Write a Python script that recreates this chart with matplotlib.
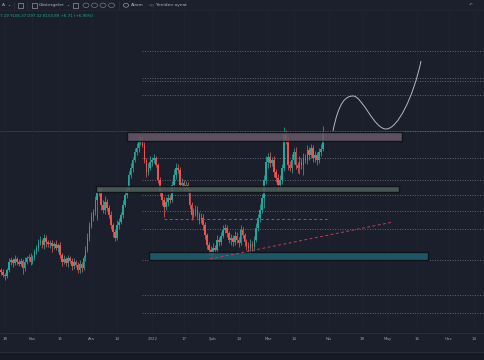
import matplotlib
matplotlib.use("Agg")
import matplotlib.pyplot as plt
import matplotlib.dates as mdates
import numpy as np
import pandas as pd
from matplotlib.path import Path
from matplotlib.patches import PathPatch, Rectangle, Circle

# daily candles, first one on 2021-10-16
first_day = "2021-10-16"
first_open = 48.8
close = [48.0, 46.8, 46.4, 48.8, 52.0,
         52.8, 51.6, 53.2, 52.0, 51.2,
         52.4, 49.6, 52.0, 53.6, 54.0,
         52.0, 54.0, 56.0, 57.6, 59.6,
         60.4, 58.8, 61.6, 60.0, 59.2,
         59.6, 58.4, 59.2, 57.6, 58.8,
         54.8, 52.0, 53.2, 51.6, 53.6,
         52.4, 50.4, 52.0, 50.8, 48.8,
         51.2, 49.6, 53.6, 56.8, 61.6,
         66.4, 70.0, 72.0, 76.8, 80.0,
         80.8, 74.8, 72.8, 76.0, 73.6,
         70.8, 66.8, 64.0, 61.6, 66.8,
         68.0, 70.8, 74.8, 78.8, 80.8,
         86.8, 89.6, 92.8, 96.0, 97.6,
         100.0, 100.8, 98.8, 92.8, 88.0,
         89.6, 92.0, 92.8, 93.6, 90.8,
         84.8, 80.0, 76.8, 74.0, 76.0,
         77.6, 76.8, 82.8, 86.8, 89.6,
         88.8, 82.8, 83.6, 82.0, 82.8,
         80.8, 74.8, 70.8, 72.0, 72.8,
         70.8, 68.8, 69.6, 66.8, 62.8,
         58.8, 56.8, 54.8, 57.6, 56.8,
         60.8, 60.0, 62.4, 64.8, 65.6,
         63.6, 60.8, 61.6, 60.0, 62.4,
         60.8, 59.6, 64.8, 62.8, 60.0,
         58.4, 57.6, 59.2, 58.0, 60.8,
         65.6, 69.6, 72.8, 77.6, 84.8,
         92.0, 94.0, 91.6, 92.8, 88.0,
         85.6, 82.8, 84.8, 89.6, 102.8,
         100.8, 90.8, 89.6, 92.8, 96.0,
         90.8, 89.6, 92.0, 90.8, 93.6,
         92.8, 96.8, 94.8, 97.6, 93.6,
         94.8, 92.8, 96.0, 97.2, 103.9]
wick_up = [0.8, 1.2, 0.8, 0.8, 1.6, 1.2, 0.8, 1.6, 0.8, 1.2,
           1.2, 0.8, 2.0, 0.8, 1.2, 1.6, 0.8, 1.2, 1.2, 1.6,
           2.0, 0.8, 1.6, 1.2, 0.8, 1.2, 1.2, 0.8, 1.6, 0.8,
           1.2, 0.8, 1.6, 0.8, 1.2, 0.8, 1.2, 1.6, 0.8, 1.2,
           1.6, 0.8, 1.2, 1.6, 2.0, 1.6, 2.0, 1.2, 1.6, 2.4,
           1.6, 1.2, 2.0, 2.4, 1.2, 1.2, 1.6, 0.8, 1.2, 2.0,
           1.6, 1.2, 2.0, 1.2, 1.6, 1.6, 2.0, 1.2, 1.6, 2.0,
           2.8, 1.2, 1.6, 1.2, 0.8, 2.0, 2.4, 1.2, 1.6, 0.8,
           0.8, 1.2, 1.6, 1.2, 2.0, 1.6, 1.2, 1.6, 2.4, 2.0,
           1.6, 1.2, 2.0, 1.2, 1.6, 1.2, 0.8, 1.2, 1.6, 2.0,
           1.6, 1.2, 2.0, 1.6, 1.2, 0.8, 1.2, 1.6, 2.0, 1.2,
           2.0, 1.2, 1.6, 2.0, 1.6, 1.2, 0.8, 1.6, 1.2, 2.0,
           1.6, 1.2, 2.0, 1.2, 0.8, 1.2, 1.6, 2.0, 1.2, 1.6,
           2.0, 1.6, 2.4, 1.6, 2.0, 2.4, 1.6, 2.0, 1.2, 1.6,
           1.2, 1.6, 2.0, 1.6, 3.2, 2.0, 1.2, 1.6, 2.4, 1.6,
           2.0, 1.2, 2.4, 1.6, 2.0, 1.6, 2.0, 1.2, 1.6, 1.2,
           1.6, 1.2, 1.6, 2.0, 2.4]
wick_dn = [1.2, 0.8, 1.6, 0.8, 0.8, 1.2, 1.6, 0.8, 1.2, 0.8,
           0.8, 2.4, 1.2, 0.8, 1.2, 1.2, 0.8, 1.2, 0.8, 1.2,
           0.8, 1.2, 1.6, 2.0, 1.2, 1.6, 2.4, 1.2, 0.8, 1.6,
           1.2, 1.6, 0.8, 1.2, 1.6, 0.8, 1.6, 1.2, 0.8, 1.2,
           1.2, 1.6, 0.8, 1.2, 0.8, 1.2, 0.8, 1.6, 1.2, 8.0,
           1.6, 2.0, 1.2, 1.6, 1.2, 1.2, 1.6, 2.0, 1.2, 0.8,
           1.6, 0.8, 1.2, 0.8, 1.2, 0.8, 1.2, 1.6, 0.8, 1.2,
           1.6, 1.2, 0.8, 1.2, 2.0, 1.2, 0.8, 1.6, 1.2, 0.8,
           1.2, 1.6, 2.0, 4.0, 1.2, 1.6, 1.2, 0.8, 1.2, 1.6,
           1.2, 1.6, 1.2, 2.0, 1.6, 1.2, 1.6, 2.0, 1.2, 1.6,
           1.2, 1.6, 1.2, 2.0, 1.6, 1.6, 2.0, 1.6, 1.2, 1.6,
           1.2, 1.6, 1.2, 0.8, 1.2, 1.6, 1.2, 2.0, 1.6, 1.2,
           1.2, 1.6, 0.8, 1.2, 1.6, 1.6, 2.0, 1.2, 1.6, 1.2,
           0.8, 1.2, 1.6, 1.2, 4.0, 1.6, 2.4, 1.6, 1.2, 2.0,
           1.6, 2.4, 1.2, 1.6, 1.2, 1.6, 2.0, 1.2, 2.0, 1.6,
           1.6, 2.0, 2.4, 1.6, 4.0, 1.2, 1.6, 2.0, 1.2, 1.6,
           1.6, 2.0, 1.2, 1.6, 0.8]

tick_dates = ["2021-10-18", "2021-11-01", "2021-11-15", "2021-12-01", "2021-12-14",
              "2022-01-01", "2022-01-17", "2022-02-01", "2022-02-14", "2022-03-01",
              "2022-03-14", "2022-04-01", "2022-04-18", "2022-05-01", "2022-05-16",
              "2022-06-01", "2022-06-14"]
tick_labels = ["18", "Kas", "15", "Ara", "14", "2022", "17", "Şub", "14", "Mar",
               "14", "Nis", "18", "May", "16", "Haz", "14"]

# dotted price levels (drawn from late december to the right edge)
levels = [136.5, 125.7, 124.3, 118.7, 104.4, 93.5, 84.7, 78.8, 72.5, 65.1, 52.8, 38.8, 31.5]
levels_from = "2021-12-27"
price_line = 104.4

# zones: start, end, low, high
zone_start = ["2021-12-19 05:00", "2021-12-03 10:00", "2021-12-30 10:00"]
zone_end = ["2022-05-08 05:00", "2022-05-06 17:00", "2022-05-21 12:00"]
zone_low = [100.4, 80.0, 52.8]
zone_high = [104.0, 82.4, 56.0]
zone_color = ["#665668", "#4a5d5a", "#1f5e6f"]

pink_h = ["2022-01-07", "2022-03-31", 69.2]
pink_d_dates = ["2022-01-30 10:00", "2022-05-03 17:00"]
pink_d_price = [53.2, 68.0]

# hand drawn projection (bezier anchors + controls)
curve_dates = ["2022-04-03 02:00", "2022-04-06", "2022-04-09 12:00", "2022-04-13 07:00",
               "2022-04-18", "2022-04-24", "2022-04-30 02:00",
               "2022-05-06", "2022-05-14", "2022-05-17 22:00"]
curve_price = [104.4, 116.0, 118.4, 118.4,
               118.4, 105.2, 105.2,
               105.2, 118.0, 132.4]

bg = "#1b1f2b"
up_c = "#26a69a"
dn_c = "#ef5350"

fig = plt.figure(figsize=(4.85, 3.6), dpi=100, facecolor=bg)
ax = fig.add_axes([0, 27 / 360, 1, 333 / 360])
ax.set_facecolor(bg)

d0 = mdates.date2num(pd.Timestamp(first_day))
x = d0 + np.arange(len(close))
c = np.array(close)
o = np.array([first_open] + close[:-1])
hi = np.maximum(o, c) + np.array(wick_up)
lo = np.minimum(o, c) - np.array(wick_dn)
cols = np.where(c >= o, up_c, dn_c)

ax.vlines(x, lo, hi, colors=cols, lw=0.55, zorder=3)
ax.bar(x, np.maximum(np.abs(c - o), 0.3), bottom=np.minimum(o, c), width=0.82,
       color=cols, lw=0, zorder=3)

def dn(s):
    return mdates.date2num(pd.Timestamp(s))

# price levels
ax.axhline(price_line, color="#363b48", lw=0.6, zorder=1)
ax.hlines(levels, dn(levels_from), d0 + 260, colors="#6a6e7c", lw=0.6,
          linestyles=(0, (1.2, 1.8)), zorder=2)

for s, e, l, h, col in zip(zone_start, zone_end, zone_low, zone_high, zone_color):
    ax.add_patch(Rectangle((dn(s), l), dn(e) - dn(s), h - l, facecolor=col,
                           edgecolor="#0c0e13", lw=1.0, alpha=0.88, zorder=4))

ax.hlines(pink_h[2], dn(pink_h[0]), dn(pink_h[1]), colors="#b8405f", lw=0.7,
          linestyles=(0, (3, 2.5)), zorder=5)
ax.plot([dn(s) for s in pink_d_dates], pink_d_price, color="#b8405f", lw=0.7,
        ls=(0, (3, 2.5)), zorder=5)

verts = [(dn(s), p) for s, p in zip(curve_dates, curve_price)]
codes = [Path.MOVETO] + [Path.CURVE4] * 9
ax.add_patch(PathPatch(Path(verts, codes), facecolor="none", edgecolor="#b4b7bd",
                       lw=0.7, zorder=5))

ax.set_xlim(d0 - 0.55, d0 + 246.5)
ax.set_ylim(23.6, 156.8)
ax.set_xticks([dn(t) for t in tick_dates])
ax.set_xticklabels(tick_labels)
ax.set_yticks([])
ax.tick_params(axis="x", length=0, pad=3.2, labelsize=2.9, colors="#9a9da6")
ax.grid(axis="x", color="#20242f", lw=0.6)
for sp in ax.spines.values():
    sp.set_visible(False)

# time scale separators
fig.add_artist(plt.Line2D([0, 1], [27 / 360, 27 / 360], color="#2b2f3b", lw=0.6))
fig.add_artist(plt.Line2D([0, 1], [8 / 360, 8 / 360], color="#2b2f3b", lw=0.6))
fig.add_artist(Rectangle((0, 0), 1, 7 / 360, color="#161a24", transform=fig.transFigure))

# toolbar
fig.add_artist(Rectangle((0, 350 / 360), 1, 10 / 360, color="#1c202c", transform=fig.transFigure, zorder=10))
fig.add_artist(plt.Line2D([0, 1], [350 / 360, 350 / 360], color="#262a36", lw=0.5, zorder=11))
tb = "#b2b5be"
ty = 1 - 5.3 / 360
def ftxt(px, s, **kw):
    kw.setdefault("fontsize", 3.2)
    fig.text(px / 485, ty, s, color=tb, va="center", zorder=12, **kw)
ftxt(1.5, "A")
ftxt(7.5, "⌄", fontsize=2.6)
ftxt(38.5, "Göstergeler")
ftxt(66, "⌄", fontsize=2.6)
ftxt(130.5, "Alarm")
ftxt(148, "◁◁", fontsize=2.4)
ftxt(155.5, "Yeniden oynat")
ftxt(469, "↶", alpha=0.7)
for sx in [14.5, 27.5, 119]:
    fig.add_artist(plt.Line2D([sx / 485, sx / 485], [1 - 8.5 / 360, 1 - 2 / 360], color="#2e3240", lw=0.5, zorder=12))
for cx in [86, 94.5, 103, 111.5]:
    fig.add_artist(Circle((cx / 485, ty), 3 / 485, transform=fig.transFigure, fill=False,
                          edgecolor="#8a8e99", lw=0.4, zorder=12))
fig.add_artist(Rectangle((18 / 485, 1 - 7.5 / 360), 5 / 485, 5 / 360, fill=False, edgecolor=tb, lw=0.4,
                         transform=fig.transFigure, zorder=12))
fig.add_artist(Rectangle((32 / 485, 1 - 7.5 / 360), 5 / 485, 5 / 360, fill=False, edgecolor=tb, lw=0.4,
                         transform=fig.transFigure, zorder=12))
fig.add_artist(Rectangle((73.5 / 485, 1 - 7.5 / 360), 5 / 485, 5 / 360, fill=False, edgecolor=tb, lw=0.4,
                         transform=fig.transFigure, zorder=12))
fig.add_artist(Circle((126 / 485, ty), 2.6 / 485, transform=fig.transFigure, fill=False,
                      edgecolor=tb, lw=0.4, zorder=12))

# legend line
fig.text(0.5 / 485, 1 - 16 / 360, "7.19 Y106.37 D97.32 K103.89 +6.71 (+6.90%)", color=up_c,
         fontsize=2.9, va="center", zorder=12)

fig.savefig("out.png", dpi=100, facecolor=bg)
